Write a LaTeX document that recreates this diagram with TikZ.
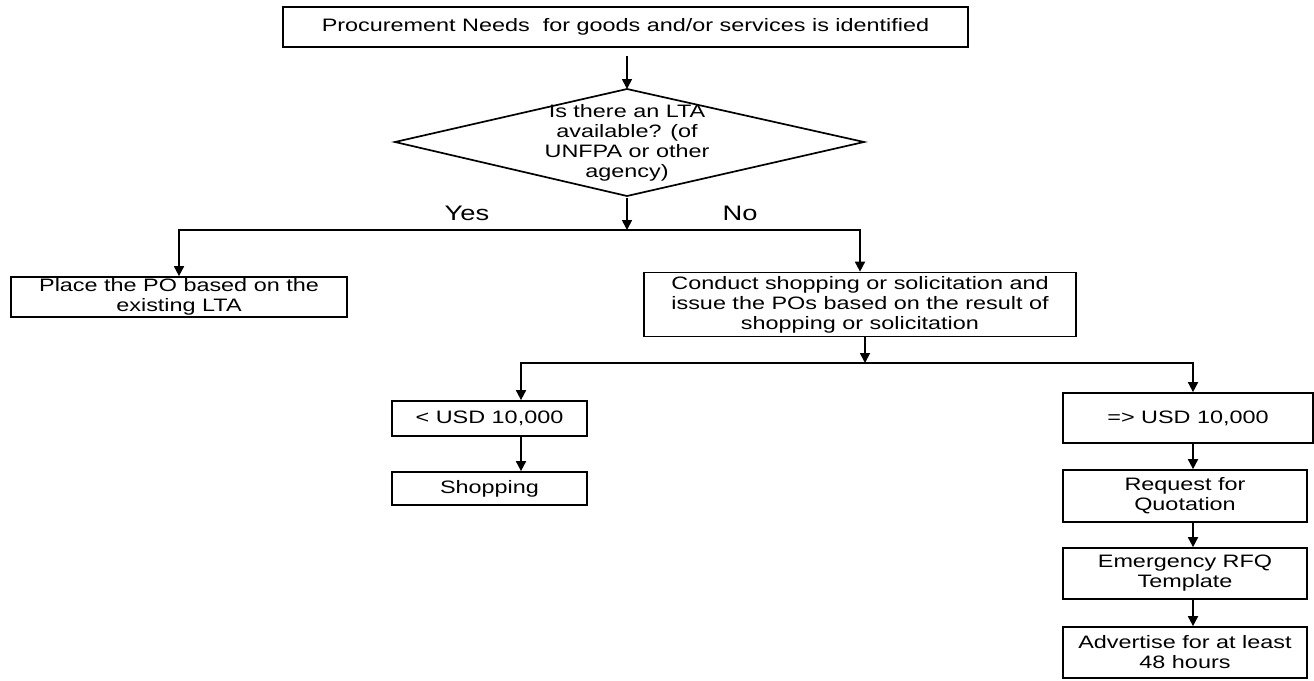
\documentclass[tikz,border=0pt]{standalone}
\usepackage{fontspec}
\setmainfont{Liberation Sans}[FakeStretch=1.3]
\usetikzlibrary{arrows.meta,calc}
\begin{document}
\begin{tikzpicture}[x=1pt,y=-1pt,
  box/.style={draw,line width=1.7pt,rectangle,inner sep=0pt,align=center,font=\fontsize{18}{20}\selectfont},
  lbl/.style={font=\fontsize{21}{22}\selectfont,inner sep=0pt},
  conn/.style={line width=1.7pt},
  arr/.style={conn,-{Triangle[width=10pt,length=10pt]}}]
\useasboundingbox (0,0) rectangle (1314,680);
% nodes
\node[box,minimum width=685pt,minimum height=40pt] (top) at (625.5,27) {Procurement Needs\ \ for goods and/or services is identified};
\coordinate (dt) at (627,89);
\coordinate (dl) at (395,142);
\coordinate (dr) at (864,142);
\coordinate (db) at (627,196);
\draw[conn,line join=miter] (dt) -- (dr) -- (db) -- (dl) -- cycle;
\node[align=center,inner sep=0pt,font=\fontsize{18}{20}\selectfont] (dia) at (627,143) {Is there an LTA\\available? (of\\UNFPA or other\\agency)};
\node[box,minimum width=336pt,minimum height=40pt] (place) at (179,297) {Place the PO based on the\\existing LTA};
\node[box,minimum width=432pt,minimum height=64pt] (cond) at (860,304.5) {Conduct shopping or solicitation and\\issue the POs based on the result of\\shopping or solicitation};
\node[box,minimum width=195pt,minimum height=35pt] (lt) at (489.5,418.5) {< USD 10,000};
\node[box,minimum width=195pt,minimum height=33pt] (shop) at (489.5,488.5) {Shopping};
\node[box,minimum width=250pt,minimum height=50pt] (ge) at (1188,418) {=> USD 10,000};
\node[box,minimum width=244pt,minimum height=52pt] (rfq) at (1185,496) {Request for\\Quotation};
\node[box,minimum width=244pt,minimum height=51pt] (erfq) at (1185,573.5) {Emergency RFQ\\Template};
\node[box,minimum width=244pt,minimum height=51pt] (adv) at (1185,652.5) {Advertise for at least\\48 hours};
\node[lbl] (yes) at (467,213) {Yes};
\node[lbl] (no) at (740,213) {No};
% helper coordinates
\coordinate (j1) at (627,230);
\coordinate (j2) at (865,363);
\coordinate (cA) at (521,0);
\coordinate (cB) at (1193,0);
% connectors
\draw[arr] (top.south -| dt) ++(0,8) -- (dt);
\draw[arr] (db) ++(0,2) -- (j1);
\draw[arr] (j1) -| (place.north);
\draw[arr] (j1) -| (cond.north);
\draw[arr] (cond.south -| j2) -- (j2);
\draw[arr] (j2) -| (lt.north -| cA);
\draw[arr] (j2) -| (ge.north -| cB);
\draw[arr] (lt.south -| cA) -- (shop.north -| cA);
\draw[arr] (ge.south -| cB) -- (rfq.north -| cB);
\draw[arr] (rfq.south -| cB) -- (erfq.north -| cB);
\draw[arr] (erfq.south -| cB) -- (adv.north -| cB);
\end{tikzpicture}
\end{document}
